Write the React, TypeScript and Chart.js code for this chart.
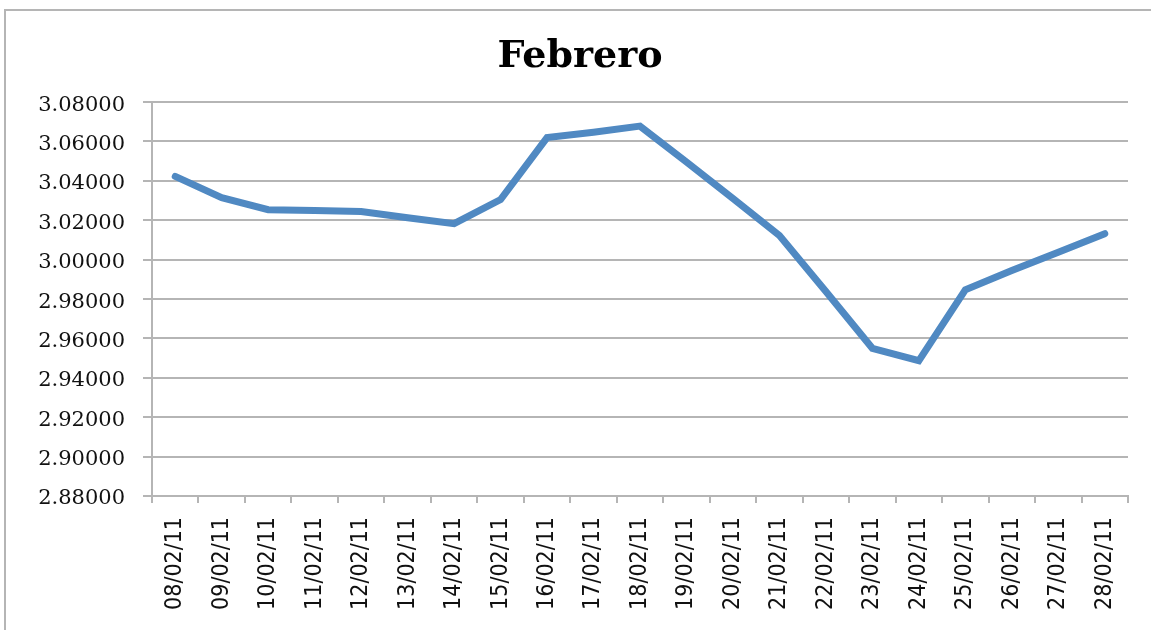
import React, { useEffect, useRef } from "react";
import Chart from "chart.js/auto";

const categories = [
  "08/02/11", "09/02/11", "10/02/11", "11/02/11", "12/02/11", "13/02/11", "14/02/11",
  "15/02/11", "16/02/11", "17/02/11", "18/02/11", "19/02/11", "20/02/11", "21/02/11",
  "22/02/11", "23/02/11", "24/02/11", "25/02/11", "26/02/11", "27/02/11", "28/02/11",
];
const values = [
  3.0423, 3.0315, 3.0254, 3.0249, 3.0244, 3.0213, 3.0183,
  3.0305, 3.062, 3.0647, 3.0678, 3.0496, 3.031, 3.0123,
  2.9838, 2.955, 2.9487, 2.9847, 2.9945, 3.0038, 3.0132,
];
const yMin = 2.88;
const yMax = 3.08;
const yStep = 0.02;
const title = "Febrero";

export default function App() {
  const ref = useRef<HTMLCanvasElement | null>(null);
  useEffect(() => {
    document.body.style.margin = "0";
    if (!ref.current) return;
    const grid = "#b5b5b5";
    const chart = new Chart(ref.current, {
      type: "line",
      data: {
        labels: categories,
        datasets: [
          {
            data: values,
            borderColor: "#5089c2",
            borderWidth: 7,
            pointRadius: 0,
            tension: 0,
            fill: false,
            borderCapStyle: "round",
            borderJoinStyle: "miter",
          },
        ],
      },
      options: {
        animation: false,
        responsive: false,
        maintainAspectRatio: false,
        layout: { padding: { left: 32, right: 23, top: 0, bottom: 0 } },
        plugins: {
          legend: { display: false },
          tooltip: { enabled: false },
          title: {
            display: true,
            text: title,
            color: "#000",
            font: { family: "DejaVu Serif", size: 38, weight: "bold", lineHeight: 1.2 },
            padding: { top: 34, bottom: 22.5 },
          },
        },
        scales: {
          x: {
            type: "category",
            offset: true,
            grid: {
              offset: true,
              drawOnChartArea: false,
              drawTicks: true,
              tickLength: 7,
              color: grid,
              lineWidth: 2,
            },
            border: { color: grid, width: 2 },
            ticks: {
              autoSkip: false,
              maxRotation: 90,
              minRotation: 90,
              padding: 14,
              color: "#111",
              font: { family: "DejaVu Sans Condensed", size: 23 },
            },
            afterFit: (s: any) => {
              s.height = 134;
            },
          },
          y: {
            min: yMin,
            max: yMax,
            grid: { color: grid, lineWidth: 2, tickLength: 9 },
            border: { color: grid, width: 2 },
            ticks: {
              stepSize: yStep,
              padding: 18,
              labelOffset: 3,
              color: "#111",
              font: { family: "DejaVu Serif", size: 21 },
              callback: (v: any) => Number(v).toFixed(5),
            },
            afterFit: (s: any) => {
              s.width = 120;
            },
          },
        },
      },
    });
    return () => chart.destroy();
  }, []);
  return (
    <div style={{ position: "fixed", left: 0, top: 0, width: 1151, height: 630, overflow: "hidden", background: "#fff" }}>
      <div
        style={{
          position: "absolute",
          left: 4,
          top: 9,
          width: 1200,
          height: 700,
          border: "2px solid #b5b5b5",
          boxSizing: "border-box",
        }}
      />
      <canvas ref={ref} width={1151} height={630} style={{ position: "absolute", left: 0, top: 0 }} />
    </div>
  );
}
